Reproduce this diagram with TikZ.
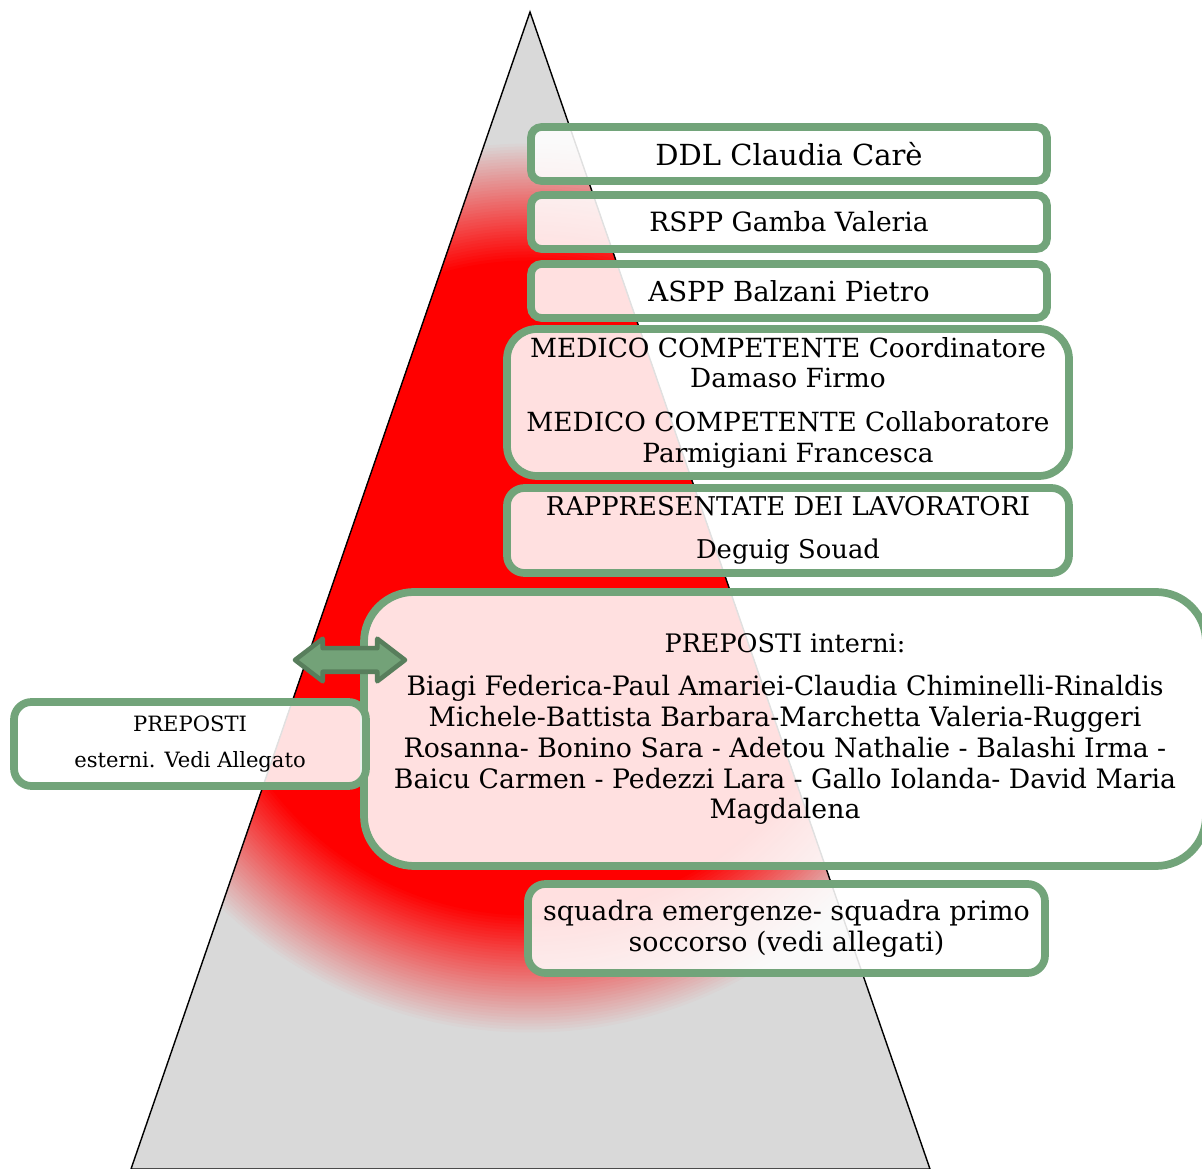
\documentclass[tikz,border=0pt]{standalone}
\usepackage{fontspec}
\setmainfont{DejaVu Serif}
\usetikzlibrary{shapes.arrows}
\definecolor{tiergreen}{HTML}{72A47A}
\definecolor{arrowgreen}{HTML}{73A278}
\definecolor{arrowedge}{HTML}{587E5C}
\definecolor{pyrgrey}{HTML}{D9D9D9}
\definecolor{glowred}{HTML}{FF0000}

\begin{document}
\begin{tikzpicture}[tier/.style={draw=tiergreen, line width=4.4pt, fill=white, fill opacity=0.88, text opacity=1, rounded corners=#1, align=center, inner sep=0pt}, tier/.default=6pt]
    \useasboundingbox (0,0) rectangle (24.04,23.38);

    % pyramid with red glow
    \fill[pyrgrey] (10.6,23.14) -- (2.62,0) -- (18.6,0) -- cycle;
    \begin{scope}
        \clip (10.6,23.14) -- (2.62,0) -- (18.6,0) -- cycle;
        \foreach \k in {0,...,40} {
            \pgfmathsetmacro{\pct}{\k*2.5}
            \pgfmathsetmacro{\rad}{8.95 - \k*0.06}
            \fill[glowred!\pct!pyrgrey] (10.6,11.62) circle (\rad);
        }
    \end{scope}
    \draw[line width=0.8pt] (10.6,23.14) -- (2.62,0) -- (18.6,0) -- cycle;

    % levels
    \node[tier, minimum width=10.32cm, minimum height=1.08cm, font=\fontsize{16.5}{18}\selectfont] (ddl) at (15.78,20.30) {DDL Claudia Carè};
    \node[tier, minimum width=10.32cm, minimum height=1.08cm, font=\fontsize{15.1}{18}\selectfont] (rspp) at (15.78,18.94) {RSPP Gamba Valeria};
    \node[tier, minimum width=10.32cm, minimum height=1.08cm, font=\fontsize{15.7}{18}\selectfont] (aspp) at (15.78,17.56) {ASPP Balzani Pietro};
    \node[tier=0.6cm, minimum width=11.24cm, minimum height=2.94cm, font=\fontsize{15}{17.6}\selectfont] (medico) at (15.76,15.33)
        {MEDICO COMPETENTE Coordinatore\\ Damaso Firmo\\[7pt] MEDICO COMPETENTE Collaboratore\\ Parmigiani Francesca};
    \node[tier=0.35cm, minimum width=11.24cm, minimum height=1.70cm, font=\fontsize{14.7}{17.6}\selectfont] (rls) at (15.76,12.77)
        {RAPPRESENTATE DEI LAVORATORI\\[7pt] Deguig Souad};
    \node[tier=1cm, minimum width=16.84cm, minimum height=5.48cm, font=\fontsize{15.2}{17.6}\selectfont] (interni) at (15.70,8.80)
        {\fontsize{14.5}{17.6}\selectfont PREPOSTI interni:\\[7pt] Biagi Federica-Paul Amariei-Claudia Chiminelli-Rinaldis\\ Michele-Battista Barbara-Marchetta Valeria-Ruggeri\\
         Rosanna- Bonino Sara - Adetou Nathalie - Balashi Irma -\\ Baicu Carmen - Pedezzi Lara - Gallo Iolanda- David Maria\\ Magdalena};
    \node[tier=0.35cm, minimum width=10.34cm, minimum height=1.78cm, font=\fontsize{15.3}{17.6}\selectfont] (squadra) at (15.73,4.81)
        {squadra emergenze- squadra primo\\ soccorso (vedi allegati)};
    \node[tier=0.35cm, minimum width=7.04cm, minimum height=1.68cm, font=\fontsize{12}{20.4}\selectfont] (esterni) at (3.80,8.50)
        {PREPOSTI\\ esterni. Vedi Allegato};

    % link arrow
    \node[double arrow, double arrow tip angle=75, double arrow head extend=0.19cm, minimum width=0.76cm, minimum height=2.2cm,
          inner xsep=0pt, inner ysep=0.19cm, fill=arrowgreen, draw=arrowedge, line width=2.6pt, line join=round] (link) at (7.0,10.18) {};
\end{tikzpicture}
\end{document}
